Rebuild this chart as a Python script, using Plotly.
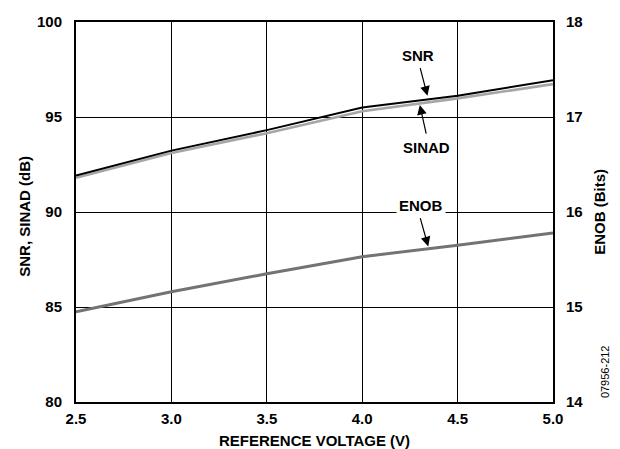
import plotly.graph_objects as go

voltage = [2.5, 3.0, 3.5, 4.0, 4.5, 5.0]
snr = [91.92, 93.23, 94.31, 95.50, 96.12, 96.94]
sinad = [91.80, 93.10, 94.15, 95.30, 95.98, 96.73]
enob = [14.95, 15.16, 15.35, 15.53, 15.65, 15.78]

x_ticks = [2.5, 3.0, 3.5, 4.0, 4.5, 5.0]
x_tick_labels = ["2.5", "3.0", "3.5", "4.0", "4.5", "5.0"]
y_ticks = [80, 85, 90, 95, 100]
y2_ticks = [14, 15, 16, 17, 18]

FONT = "Liberation Sans, Arial, sans-serif"

fig = go.Figure()
fig.add_trace(go.Scatter(x=voltage, y=enob, yaxis="y2", mode="lines",
                         line=dict(color="#737373", width=3), showlegend=False))
fig.add_trace(go.Scatter(x=voltage, y=sinad, mode="lines",
                         line=dict(color="#a6a6a6", width=2.6), showlegend=False))
fig.add_trace(go.Scatter(x=voltage, y=snr, mode="lines",
                         line=dict(color="#000000", width=2), showlegend=False))

tickfont = dict(family=FONT, size=15, color="black", weight="bold")

fig.update_layout(
    width=620, height=449,
    margin=dict(l=67.5, r=75, t=13.5, b=55, autoexpand=False),
    paper_bgcolor="white", plot_bgcolor="white",
    xaxis=dict(range=[2.5, 5.0], tickvals=x_ticks, ticktext=x_tick_labels,
               showgrid=True, gridcolor="black", gridwidth=1,
               showline=True, linecolor="black", linewidth=2, mirror=True,
               ticks="outside", ticklen=2, tickcolor="rgba(0,0,0,0)",
               tickfont=tickfont, zeroline=False, automargin=False),
    yaxis=dict(range=[80, 100], tickvals=y_ticks,
               showgrid=True, gridcolor="black", gridwidth=1,
               showline=True, linecolor="black", linewidth=2, mirror=True,
               ticks="outside", ticklen=9, tickcolor="rgba(0,0,0,0)",
               tickfont=tickfont, zeroline=False, automargin=False),
    yaxis2=dict(range=[14, 18], tickvals=y2_ticks, overlaying="y", side="right",
                showgrid=False, showline=False,
                ticks="outside", ticklen=9, tickcolor="rgba(0,0,0,0)",
                tickfont=tickfont, zeroline=False, automargin=False),
)

lblfont = dict(family=FONT, size=15, color="black", weight="bold")
titlefont = dict(family=FONT, size=15, color="black", weight="bold")

annotations = [
    # axis titles
    dict(text="REFERENCE VOLTAGE (V)", xref="paper", yref="paper", x=0.5, y=-0.1,
         xanchor="center", yanchor="middle", showarrow=False, font=titlefont),
    dict(text="SNR, SINAD (dB)", xref="paper", yref="paper", x=-0.107, y=0.49,
         xanchor="center", yanchor="middle", showarrow=False, textangle=-90, font=titlefont),
    dict(text="ENOB (Bits)", xref="paper", yref="paper", x=1.096, y=0.5,
         xanchor="center", yanchor="middle", showarrow=False, textangle=-90, font=titlefont),
    dict(text="07956-212", xref="paper", yref="paper", x=1.108, y=0.08,
         xanchor="center", yanchor="middle", showarrow=False, textangle=-90,
         font=dict(family=FONT, size=11, color="black")),
    # series labels
    dict(text="SNR", x=4.293, y=98.26, xref="x", yref="y", showarrow=False, font=lblfont),
    dict(text="SINAD", x=4.335, y=93.39, xref="x", yref="y", showarrow=False, font=lblfont),
    dict(text="ENOB", x=4.31, y=90.32, xref="x", yref="y", showarrow=False, font=lblfont,
         bgcolor="white", borderpad=2),
]
arrows = [
    ((4.302, 97.65), (4.342, 96.12)),
    ((4.337, 94.05), (4.302, 95.63)),
    ((4.302, 89.76), (4.346, 88.19)),
]
for (tx, ty), (hx, hy) in arrows:
    annotations.append(dict(text="", x=hx, y=hy, ax=tx, ay=ty, xref="x", yref="y",
                            axref="x", ayref="y", showarrow=True, arrowhead=2,
                            arrowsize=1.6, arrowwidth=1.2, arrowcolor="black", standoff=0))

fig.update_layout(annotations=annotations)
fig.write_html("out.html")
